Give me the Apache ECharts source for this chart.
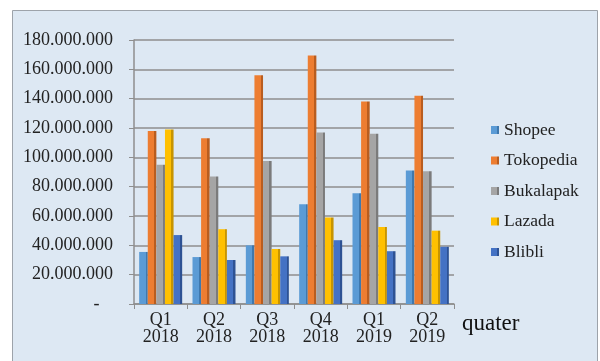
<!DOCTYPE html>
<html>
<head>
<meta charset="utf-8">
<script src="https://cdn.jsdelivr.net/npm/echarts@6/dist/echarts.min.js"></script>
<style>
  html, body { margin: 0; padding: 0; background: #fff; }
  #chart { width: 600px; height: 361px; }
</style>
</head>
<body>
<div id="chart"></div>
<script>
var quarters = ['Q1\n2018', 'Q2\n2018', 'Q3\n2018', 'Q4\n2018', 'Q1\n2019', 'Q2\n2019'];
var shopee    = [35500000, 32000000, 40000000, 68000000, 75500000, 91000000];
var tokopedia = [118000000, 113000000, 156000000, 169500000, 138000000, 142000000];
var bukalapak = [95000000, 87000000, 97500000, 117000000, 116000000, 90500000];
var lazada    = [119000000, 51000000, 37500000, 59000000, 52500000, 50000000];
var blibli    = [47000000, 30000000, 32500000, 43500000, 36000000, 39000000];

var names = ['Shopee', 'Tokopedia', 'Bukalapak', 'Lazada', 'Blibli'];
var values = [shopee, tokopedia, bukalapak, lazada, blibli];
var colors = ['#5b9bd5', '#ed7d31', '#a5a5a5', '#ffc000', '#4472c4'];
var sides  = ['#3f78ad', '#b95d1f', '#7b7b7b', '#c79400', '#2d5294'];

// fake 3d look: darker strip on right side of each bar
function barColor(i) {
  return {
    type: 'linear', x: 0, y: 0, x2: 1, y2: 0,
    colorStops: [
      { offset: 0, color: colors[i] },
      { offset: 0.74, color: colors[i] },
      { offset: 0.74, color: sides[i] },
      { offset: 1, color: sides[i] }
    ]
  };
}

function fmt(v) {
  if (v === 0) return '-   ';
  return String(v).replace(/\B(?=(\d{3})+(?!\d))/g, '.');
}

var series = [];
for (var i = 0; i < names.length; i++) {
  series.push({
    name: names[i],
    type: 'bar',
    data: values[i],
    barWidth: 8.6,
    barGap: '0%',
    itemStyle: { color: barColor(i) }
  });
}

var chart = echarts.init(document.getElementById('chart'));
chart.setOption({
  animation: false,
  color: colors,
  textStyle: { fontFamily: 'Liberation Serif' },
  graphic: [{
    type: 'rect',
    shape: { x: 12.5, y: 10.5, width: 585, height: 360 },
    style: { fill: '#dde8f3', stroke: '#9da3aa', lineWidth: 1 },
    z: -10
  }],
  grid: { left: 134, right: 146, top: 40, bottom: 57 },
  legend: {
    orient: 'vertical',
    left: 486,
    top: 116,
    itemWidth: 8,
    itemHeight: 8,
    itemGap: 12.5,
    icon: 'rect',
    textStyle: { fontFamily: 'Liberation Serif', fontSize: 17.5, color: '#222' }
  },
  xAxis: {
    type: 'category',
    data: quarters,
    name: 'quater',
    nameLocation: 'end',
    nameGap: 8,
    nameTextStyle: { fontFamily: 'Liberation Serif', fontSize: 23, color: '#111', verticalAlign: 'top', padding: [8, 0, 0, 0] },
    axisLine: { lineStyle: { color: '#8e8e8e', width: 1.5 } },
    axisTick: { show: true, alignWithLabel: false, length: 5, lineStyle: { color: '#8e8e8e' } },
    axisLabel: { fontFamily: 'Liberation Serif', fontSize: 18, color: '#222', lineHeight: 17, margin: 8 }
  },
  yAxis: {
    type: 'value',
    min: 0,
    max: 180000000,
    interval: 20000000,
    axisLine: { show: true, lineStyle: { color: '#8e8e8e', width: 1.5 } },
    axisTick: { show: true, length: 5, lineStyle: { color: '#8e8e8e' } },
    splitLine: { lineStyle: { color: '#8e8e8e', width: 1.5 } },
    axisLabel: { fontFamily: 'Liberation Serif', fontSize: 18, color: '#222', margin: 21, formatter: fmt }
  },
  series: series
});
</script>
</body>
</html>
